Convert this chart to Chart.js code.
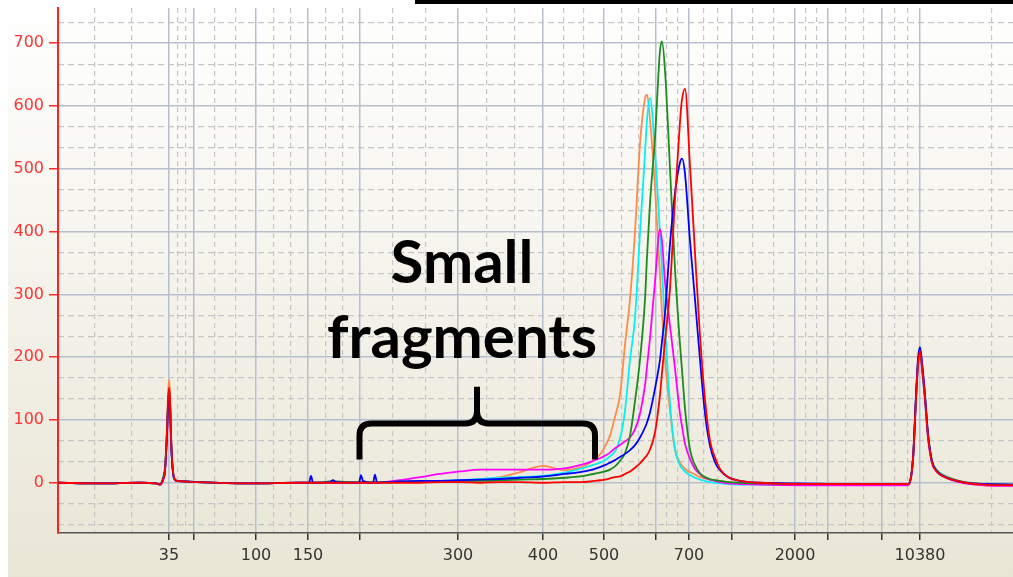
<!DOCTYPE html>
<html>
<head>
<meta charset="utf-8">
<title>Electropherogram</title>
<script src="https://cdn.jsdelivr.net/npm/chart.js@4.4.1/dist/chart.umd.min.js"></script>
<style>
html, body { margin: 0; padding: 0; background: #fff; overflow: hidden; }
#wrap { width: 1013px; height: 577px; }
</style>
</head>
<body>
<div id="wrap"><canvas id="c" width="1013" height="577"></canvas></div>
<script>
// Migration time (s) of every sample point shared by all traces
const migrationTime = [
  40.0, 44.2, 48.2, 49.8, 50.2,
  50.5, 50.7, 50.9, 51.0, 51.1, 51.2, 51.3, 51.4, 51.6, 51.9, 52.7, 53.9,
  59.2, 64.2, 65.1, 65.3, 65.5,
  67.2, 67.5, 67.8,
  70.1, 70.3, 70.5,
  71.5, 71.7, 71.9,
  72.7, 74.2, 76.2, 78.2, 80.2, 82.2, 84.2, 86.2, 88.5, 90.7,
  92.2, 93.2, 94.2, 94.7, 95.2, 95.7, 96.2, 96.7, 97.2, 97.7, 98.2, 98.7,
  98.9, 99.2, 99.7, 100.2, 100.4, 100.7, 101.2, 101.7, 102.2, 102.4, 102.7,
  103.2, 103.7, 104.2, 104.7, 105.2, 105.7, 106.2, 107.0, 108.2, 110.2,
  114.2, 119.2, 124.2, 125.0,
  125.5, 125.8, 126.0, 126.2, 126.4, 126.7, 127.0, 127.4, 127.8, 128.4, 129.4, 130.7, 132.7, 135.5
];

// Ladder marker positions on the time axis and their size labels (bp)
const ladderTimes  = [51.1, 53.6, 59.8, 65.0, 70.2, 80.0, 88.5, 94.6, 99.8, 103.1, 107.4, 113.7, 117.0, 122.4, 126.2];
const ladderLabels = ['35', '', '100', '150', '', '300', '400', '500', '', '700', '', '2000', '', '', '10380'];

// Fluorescence axis ticks [FU]
const fuTicks = [0, 100, 200, 300, 400, 500, 600, 700];

// Fluorescence of each sample [FU]
const sampleRed = [
  0, -1, 0, -1, -3,
  5, 20, 84, 130, 152, 134, 76, 38, 8, 3, 2, 1,
  -1, 0, 0, 0, 0,
  0, 0, 0,
  0, 0, 0,
  0, 0, 0,
  0, 0, 0, 1, 1, 0, 1, 1, 0, 1,
  1, 2, 4, 5, 7, 9, 10, 14, 18, 24, 31, 40,
  44, 53, 80, 140, 175, 225, 310, 451, 575, 610, 627,
  505, 366, 234, 133, 67, 40, 22, 9, 3, 0,
  -2, -2, -2, -2,
  38, 135, 190, 210, 185, 135, 75, 32, 19, 11, 5, 0, -3, -4
];
const sampleBlue = [
  0, -1, 0, -1, -3,
  5, 20, 78, 121, 142, 125, 71, 36, 7, 3, 2, 1,
  -1, 0, 0, 11, 0,
  1, 4, 1,
  0, 12, 3,
  0, 13, 0,
  1, 2, 3, 3, 4, 5, 6, 8, 10, 14,
  17, 20, 25, 28, 32, 36, 41, 46, 52, 60, 72, 88,
  96, 112, 150, 196, 225, 270, 380, 462, 510, 516, 492,
  385, 292, 196, 110, 59, 33, 20, 9, 3, 0,
  -1, -2, -2, -2,
  40, 140, 198, 216, 192, 140, 78, 34, 20, 12, 5, 0, -2, -3
];
const sampleGreen = [
  0, -1, 0, -1, -2,
  8, 24, 81, 126, 148, 130, 74, 37, 8, 3, 2, 1,
  -1, 0, 0, 0, 0,
  2, 3, 2,
  1, 1, 1,
  1, 1, 1,
  1, 2, 2, 2, 3, 3, 4, 5, 6, 8,
  10, 13, 16, 18, 21, 26, 35, 47, 75, 130, 196, 292,
  360, 445, 550, 688, 703, 657, 500, 340, 220, 180, 118,
  53, 28, 15, 9, 6, 4, 3, 1, 0, -1,
  -2, -2, -2, -2,
  38, 136, 192, 212, 188, 138, 78, 35, 21, 12, 6, 1, -2, -3
];
const sampleCyan = [
  0, -1, 0, -1, -3,
  5, 20, 80, 123, 145, 128, 73, 36, 7, 3, 2, 1,
  -1, 0, 0, 0, 0,
  0, 0, 0,
  0, 0, 0,
  0, 0, 0,
  0, 1, 2, 3, 4, 6, 8, 9, 11, 16,
  22, 27, 32, 36, 42, 50, 70, 115, 196, 262, 398, 525,
  578, 613, 525, 398, 340, 250, 125, 53, 28, 23, 18,
  12, 8, 5, 3, 1, 0, -1, -2, -3, -3,
  -3, -3, -3, -3,
  36, 130, 185, 205, 180, 130, 72, 33, 21, 13, 6, 0, -3, -4
];
const sampleOrange = [
  0, -1, 0, -1, -3,
  6, 22, 90, 140, 164, 144, 82, 41, 9, 3, 2, 1,
  -1, 0, 0, 0, 0,
  0, 0, 0,
  0, 0, 0,
  0, 0, 0,
  0, 1, 1, 2, 3, 4, 9, 17, 27, 20,
  24, 32, 45, 58, 75, 105, 140, 220, 292, 400, 540, 612,
  618, 578, 470, 330, 270, 196, 115, 53, 32, 27, 22,
  17, 13, 9, 7, 5, 4, 3, 1, 0, -2,
  -3, -3, -3, -3,
  38, 133, 188, 208, 183, 133, 74, 34, 22, 14, 7, 0, -4, -5
];
const sampleMagenta = [
  0, -1, 0, -1, -3,
  4, 18, 76, 117, 138, 121, 69, 35, 7, 3, 2, 1,
  -1, 0, 0, 0, 0,
  0, 0, 0,
  0, 0, 0,
  0, 0, 0,
  1, 4, 9, 14, 18, 21, 21, 21, 21, 23,
  28, 33, 39, 43, 48, 55, 60, 66, 72, 85, 110, 155,
  185, 230, 320, 404, 385, 320, 250, 182, 110, 90, 62,
  38, 22, 14, 8, 5, 3, 1, -1, -2, -3,
  -4, -4, -4, -4,
  35, 132, 186, 206, 182, 132, 72, 32, 19, 11, 4, -1, -4, -5
];

// Axis ranges
const timeMin = 40, timeMax = 135.5, gridEnd = 147.8;
const fuMin = -80, fuMax = 756;

// Dashed minor grid: two lines in each interval between major lines
function thirdsBetween(bounds) {
  const out = [];
  for (let i = 0; i < bounds.length - 1; i++) {
    const a = bounds[i], b = bounds[i + 1];
    out.push(a + (b - a) / 3, a + 2 * (b - a) / 3);
  }
  return out;
}
const timeMinorTicks = thirdsBetween([timeMin, ...ladderTimes, gridEnd]).filter(v => v > timeMin && v < timeMax);
const fuMinorTicks = thirdsBetween([-100, ...fuTicks, 800]).filter(v => v > fuMin && v < fuMax);

// Annotation placed in data coordinates
const noteLines = ['Small', 'fragments'];
const notePlace = { time: 80.4, baselines: [318.6, 199.3] };
const bracePlace = { left: 70.15, right: 93.7, mid: 81.9, bar: 94.3, ends: 37, tip: 153 };

const traces = [
  { label: 'Sample 1', values: sampleRed, color: '#ff0000' },
  { label: 'Sample 2', values: sampleBlue, color: '#0000ff' },
  { label: 'Sample 3', values: sampleGreen, color: '#1c8c1c' },
  { label: 'Sample 4', values: sampleMagenta, color: '#ff00ff' },
  { label: 'Sample 5', values: sampleCyan, color: '#00f2f2' },
  { label: 'Sample 6', values: sampleOrange, color: '#ff8a4c' }
];

const backdrop = {
  id: 'backdrop',
  beforeDraw(chart) {
    const { ctx, width, height } = chart;
    ctx.save();
    const g = ctx.createLinearGradient(0, 0, 0, height);
    g.addColorStop(0, '#ffffff');
    g.addColorStop(1, '#e9e6d6');
    ctx.fillStyle = g;
    ctx.fillRect(0, 0, width, height);
    ctx.fillStyle = '#ffffff';
    ctx.fillRect(0, 0, 8, height);
    ctx.restore();
  },
  afterDraw(chart) {
    const { ctx, width } = chart;
    ctx.save();
    ctx.fillStyle = '#000';
    ctx.fillRect(415, 0, width - 415, 4);
    ctx.restore();
  }
};

const note = {
  id: 'note',
  afterDatasetsDraw(chart) {
    const { ctx } = chart;
    const x = chart.scales.x, y = chart.scales.y;
    ctx.save();
    ctx.fillStyle = '#000';
    ctx.font = 'bold 60px Lato';
    ctx.textAlign = 'center';
    ctx.textBaseline = 'alphabetic';
    const cx = x.getPixelForValue(notePlace.time);
    noteLines.forEach((t, i) => ctx.fillText(t, cx, y.getPixelForValue(notePlace.baselines[i])));

    const xl = x.getPixelForValue(bracePlace.left);
    const xr = x.getPixelForValue(bracePlace.right);
    const xm = x.getPixelForValue(bracePlace.mid);
    const yb = y.getPixelForValue(bracePlace.bar);
    const ye = y.getPixelForValue(bracePlace.ends);
    const yt = y.getPixelForValue(bracePlace.tip);
    const r = 12;
    ctx.strokeStyle = '#000';
    ctx.lineWidth = 6;
    ctx.lineJoin = 'round';
    ctx.lineCap = 'butt';
    ctx.beginPath();
    ctx.moveTo(xl, ye);
    ctx.lineTo(xl, yb + r);
    ctx.quadraticCurveTo(xl, yb, xl + r, yb);
    ctx.lineTo(xm - r, yb);
    ctx.quadraticCurveTo(xm, yb, xm, yb - r);
    ctx.lineTo(xm, yt);
    ctx.moveTo(xm, yb - r);
    ctx.quadraticCurveTo(xm, yb, xm + r, yb);
    ctx.lineTo(xr - r, yb);
    ctx.quadraticCurveTo(xr, yb, xr, yb + r);
    ctx.lineTo(xr, ye);
    ctx.stroke();
    ctx.restore();
  }
};

const solidGrid = '#b7bfcf';
const dashGrid = '#c6c6c6';

new Chart(document.getElementById('c'), {
  type: 'line',
  data: {
    datasets: traces.map(tr => ({
      label: tr.label,
      data: migrationTime.map((t, i) => ({ x: t, y: tr.values[i] })),
      borderColor: tr.color,
      borderWidth: 1.8,
      pointRadius: 0,
      fill: false,
      cubicInterpolationMode: 'monotone'
    }))
  },
  options: {
    responsive: false,
    devicePixelRatio: 1,
    animation: false,
    layout: { padding: { top: 8, left: 0, right: 0, bottom: 0 } },
    plugins: { legend: { display: false }, tooltip: { enabled: false } },
    scales: {
      xMinor: {
        type: 'linear', position: 'bottom', min: timeMin, max: timeMax,
        afterBuildTicks: s => { s.ticks = timeMinorTicks.map(v => ({ value: v })); },
        afterFit: s => { s.height = 0; s.paddingLeft = 0; s.paddingRight = 0; },
        ticks: { display: false },
        grid: { color: dashGrid, lineWidth: 1.2, drawTicks: false, z: -2 },
        border: { display: false, dash: [5, 4] }
      },
      yMinor: {
        type: 'linear', position: 'left', min: fuMin, max: fuMax,
        afterBuildTicks: s => { s.ticks = fuMinorTicks.map(v => ({ value: v })); },
        afterFit: s => { s.width = 0; s.paddingTop = 0; s.paddingBottom = 0; },
        ticks: { display: false },
        grid: { color: dashGrid, lineWidth: 1.2, drawTicks: false, z: -2 },
        border: { display: false, dash: [6, 4] }
      },
      x: {
        type: 'linear', position: 'bottom', min: timeMin, max: timeMax,
        afterBuildTicks: s => { s.ticks = ladderTimes.map(v => ({ value: v })); },
        afterFit: s => { s.height = 44; s.paddingLeft = 0; s.paddingRight = 0; },
        ticks: {
          autoSkip: false, maxRotation: 0, minRotation: 0, padding: 6,
          color: '#333', font: { family: 'DejaVu Sans', size: 16 },
          callback: (v, i) => ladderLabels[i]
        },
        grid: { color: solidGrid, lineWidth: 1.5, drawTicks: true, tickLength: 7, tickColor: '#333', tickWidth: 1.5, z: -1 },
        border: { display: true, color: '#555', width: 1.5 }
      },
      y: {
        type: 'linear', position: 'left', min: fuMin, max: fuMax,
        afterBuildTicks: s => { s.ticks = fuTicks.map(v => ({ value: v })); },
        afterFit: s => { s.width = 58; s.paddingTop = 0; s.paddingBottom = 0; },
        ticks: { padding: 5, color: '#ff3333', font: { family: 'DejaVu Sans', size: 16 } },
        grid: { color: solidGrid, lineWidth: 1.5, drawTicks: true, tickLength: 9, tickColor: '#ff2a2a', tickWidth: 1.5, z: -1 },
        border: { display: true, color: '#ff2020', width: 2 }
      }
    }
  },
  plugins: [backdrop, note]
});
</script>
</body>
</html>
